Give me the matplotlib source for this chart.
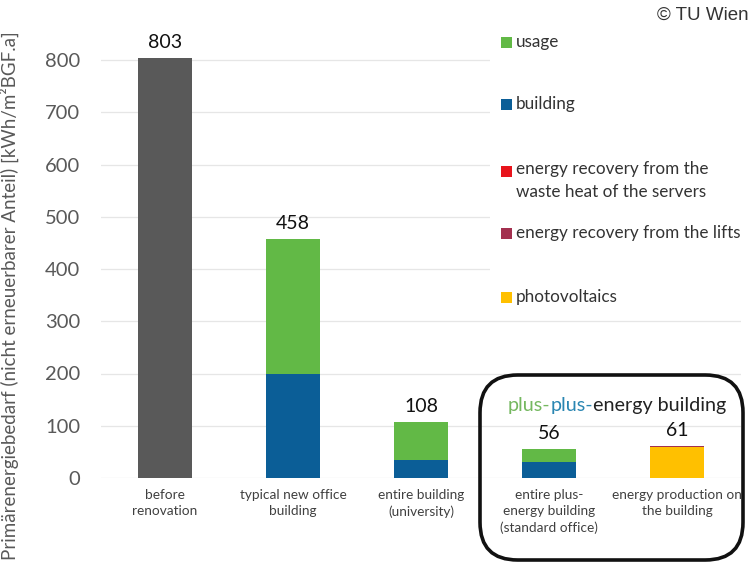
import matplotlib
matplotlib.use("Agg")
import matplotlib.pyplot as plt
from matplotlib.patches import FancyBboxPatch, Rectangle
import numpy as np

plt.rcParams['font.family'] = ['Lato', 'DejaVu Sans']

categories = ["before\nrenovation", "typical new office\nbuilding", "entire building\n(university)",
              "entire plus-\nenergy building\n(standard office)", "energy production on\nthe building"]
totals = [803, 458, 108, 56, 61]
before = [803, 0, 0, 0, 0]
building = [0, 200, 34, 30, 0]
usage = [0, 258, 74, 26, 0]
photovoltaics = [0, 0, 0, 0, 59]
waste_heat = [0, 0, 0, 0, 1]
lifts = [0, 0, 0, 0, 1]

series_names = ["usage", "building", "energy recovery from the\nwaste heat of the servers",
                "energy recovery from the lifts", "photovoltaics"]
series_colors = ["#62B946", "#0B5E97", "#E8141C", "#A3304F", "#FFC000"]
gray = "#595959"

fig = plt.figure(figsize=(7.54, 5.66), dpi=100)
ax = fig.add_axes([101/754, 1-478/566, 640/754, 850*0.5225/566])

x = np.arange(len(categories))
w = 0.42
ax.bar(x, before, w, color=gray, zorder=3)
ax.bar(x, building, w, color=series_colors[1], zorder=3)
b2 = np.array(building)
ax.bar(x, usage, w, bottom=b2, color=series_colors[0], zorder=3)
ax.bar(x, photovoltaics, w, color=series_colors[4], zorder=3)
b3 = np.array(photovoltaics)
ax.bar(x, waste_heat, w, bottom=b3, color=series_colors[2], zorder=3)
b4 = b3 + np.array(waste_heat)
ax.bar(x, lifts, w, bottom=b4, color=series_colors[3], zorder=3)

for xi, t in zip(x, totals):
    ax.annotate(str(t), (xi, t), xytext=(0, 5), textcoords="offset points",
                ha="center", va="bottom", fontsize=14, color="#111111")

ax.set_xlim(-0.5, len(categories) - 0.5)
ax.set_ylim(0, 850)
ax.set_yticks(range(0, 801, 100))
ax.tick_params(axis='y', length=0, labelsize=14.5, labelcolor=gray, pad=15)
ax.set_xticks(x)
ax.set_xticklabels(categories, fontsize=9.8, color="#404040", linespacing=1.4)
ax.tick_params(axis='x', length=0, pad=8)
ax.grid(axis='y', color="#E6E6E6", linewidth=0.9, zorder=0)
for s in ax.spines.values():
    s.set_visible(False)
ax.set_ylabel("Primärenergiebedarf (nicht erneuerbarer Anteil) [kWh/m²BGF.a]",
              fontsize=13.5, color=gray)
ax.yaxis.set_label_coords(-0.128, 0.41)

# legend area (covers gridlines)
fig.patches.append(Rectangle((490/754, 1-318/566), 264/754, 290/566, transform=fig.transFigure,
                             facecolor="white", edgecolor="none", zorder=5))
leg_y = [42, 104, 171, 233, 297]
for name, col, yy in zip(series_names, series_colors, leg_y):
    fig.patches.append(Rectangle((501/754, 1-(yy+6)/566), 11/754, 11/566, transform=fig.transFigure,
                                 facecolor=col, edgecolor="none", zorder=6))
    if "\n" in name:
        fig.text(516/754, 1-(yy-10)/566, name, fontsize=12.3, color="#333333",
                 va="top", ha="left", zorder=7, linespacing=1.55)
    else:
        fig.text(516/754, 1-yy/566, name, fontsize=12.3, color="#333333",
                 va="center", ha="left", zorder=7)

# rounded box
fig.patches.append(FancyBboxPatch((480/754, 1-560/566), 263/754, 185/566,
                                  boxstyle="round,pad=0,rounding_size=0.05",
                                  transform=fig.transFigure, facecolor="none",
                                  edgecolor="#111111", linewidth=2.6, zorder=8,
                                  mutation_aspect=754/566))

t1 = fig.text(508/754, 1-405/566, "plus-", fontsize=14.2, color="#75B860", va="center", ha="left")
t2 = fig.text(0, 0, "plus-", fontsize=14.2, color="#2A86B2", va="center", ha="left")
t3 = fig.text(0, 0, "energy building", fontsize=14.2, color="#222222", va="center", ha="left")
fig.canvas.draw()
r = fig.canvas.get_renderer()
bb1 = t1.get_window_extent(r)
t2.set_position(((bb1.x1) / fig.bbox.width, 1-405/566))
bb2 = t2.get_window_extent(r)
t3.set_position(((bb2.x1) / fig.bbox.width, 1-405/566))

fig.text(749/754, 1-15/566, "© TU Wien", fontsize=13.5, color="#333333", ha="right", va="center",
         family="Liberation Sans")

fig.savefig("out.png", dpi=100)
